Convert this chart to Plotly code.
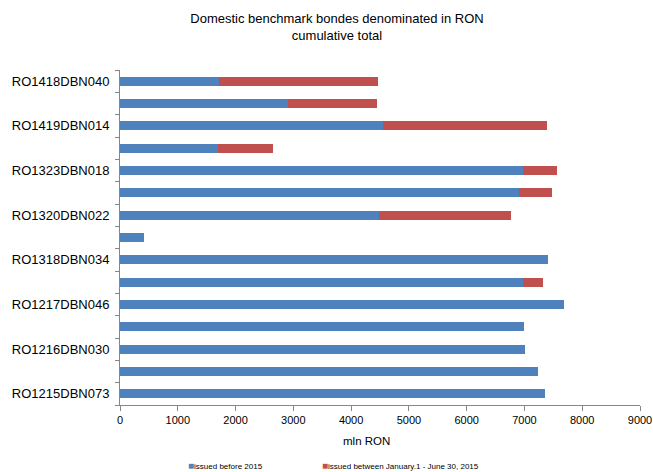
import plotly.graph_objects as go

# Benchmark bond labels, top to bottom (every other row is unlabeled on the axis)
bond_labels = [
    "RO1418DBN040", "", "RO1419DBN014", "", "RO1323DBN018", "",
    "RO1320DBN022", "", "RO1318DBN034", "", "RO1217DBN046", "",
    "RO1216DBN030", "", "RO1215DBN073",
]
# Outstanding amounts, mln RON
issued_before_2015 = [1720, 2910, 4550, 1690, 6980, 6910, 4480, 415,
                      7400, 6970, 7690, 7000, 7005, 7240, 7350]
issued_h1_2015 = [2740, 1545, 2845, 950, 585, 570, 2295, 0,
                  0, 345, 0, 0, 0, 0, 0]

series_names = ["issued before 2015", "issued between January.1 - June 30, 2015"]
series_colors = ["#4F81BD", "#C0504D"]
x_ticks = [0, 1000, 2000, 3000, 4000, 5000, 6000, 7000, 8000, 9000]

rows = list(range(len(bond_labels)))
FONT = "Liberation Sans, Arial, sans-serif"
AXIS = "#868686"

# plot area geometry in pixels
W, H = 653, 472
L, R, T, B = 120, 13, 70, 67
PW, PH = W - L - R, H - T - B


def px_to_paper_x(px):
    return (px - L) / PW


def px_to_paper_y(py):
    return (H - B - py) / PH


fig = go.Figure()
for name, vals, color in zip(series_names, [issued_before_2015, issued_h1_2015], series_colors):
    fig.add_trace(go.Bar(
        y=rows, x=vals, orientation="h", name=name,
        marker=dict(color=color, line=dict(width=0)),
        showlegend=False,
    ))

# compact legend row beneath the axis title
legend_notes = []
for name, color, px in zip(series_names, series_colors, [186, 320]):
    legend_notes.append(dict(
        text=f"<span style='color:{color};font-size:10px'>■</span>{name}",
        x=px_to_paper_x(px), xref="paper", xanchor="left",
        y=px_to_paper_y(465), yref="paper", yanchor="middle",
        showarrow=False,
        font=dict(size=8, family=FONT, color="#000000"),
    ))

fig.update_layout(
    width=W, height=H,
    barmode="stack", bargap=0.6,
    paper_bgcolor="white", plot_bgcolor="white",
    margin=dict(l=L, r=R, t=T, b=B, autoexpand=False),
    font=dict(family=FONT, color="#000000"),
    title=dict(
        text="Domestic benchmark bondes denominated in RON<br>cumulative total",
        x=337 / W, xref="container", xanchor="center",
        y=1 - 23 / H, yref="container", yanchor="top",
        font=dict(size=13, family=FONT, color="#000000"),
    ),
    showlegend=False,
    annotations=[dict(
        text="mln RON",
        x=px_to_paper_x(366), xref="paper", xanchor="center",
        y=px_to_paper_y(441), yref="paper", yanchor="middle",
        showarrow=False,
        font=dict(size=11.5, family=FONT, color="#000000"),
    )] + legend_notes,
)

fig.update_xaxes(
    range=[0, 9000], tickvals=x_ticks, ticktext=[str(v) for v in x_ticks],
    showgrid=False, zeroline=False,
    showline=True, linecolor=AXIS, linewidth=1,
    ticks="outside", ticklen=5, tickcolor=AXIS, tickwidth=1,
    tickfont=dict(size=11, family=FONT, color="#000000"),
)
fig.update_yaxes(
    range=[len(bond_labels) - 0.5, -0.5],
    tickvals=rows, ticktext=bond_labels,
    showgrid=False, zeroline=False,
    showline=True, linecolor=AXIS, linewidth=1,
    ticks="", ticklabelstandoff=7,
    tickfont=dict(size=13, family=FONT, color="#000000"),
    minor=dict(tickmode="linear", tick0=0.5, dtick=1, ticks="outside",
               ticklen=4, tickcolor=AXIS, tickwidth=1, showgrid=False),
)

fig.write_html("out.html")
